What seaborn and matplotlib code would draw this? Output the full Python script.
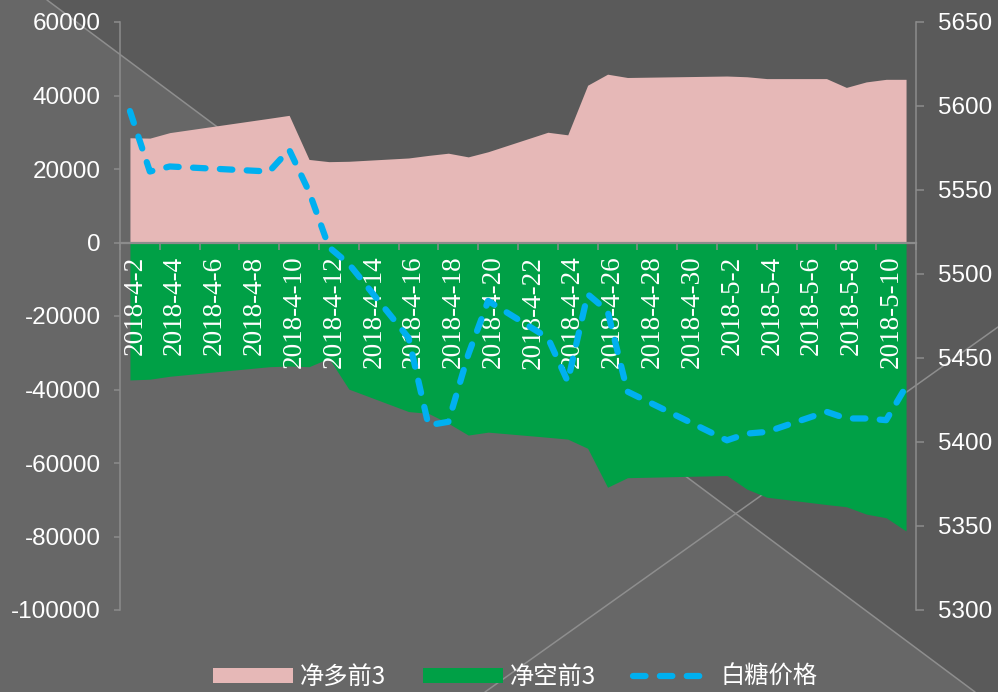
import numpy as np
import pandas as pd
import seaborn as sns
import matplotlib.pyplot as plt
import matplotlib.transforms as mtransforms
from matplotlib.patches import Polygon, Patch
from matplotlib.lines import Line2D

# trading days shown on the chart
dates = ['2018-04-02', '2018-04-03', '2018-04-04', '2018-04-09', '2018-04-10',
         '2018-04-11', '2018-04-12', '2018-04-13', '2018-04-16', '2018-04-17',
         '2018-04-18', '2018-04-19', '2018-04-20', '2018-04-23', '2018-04-24',
         '2018-04-25', '2018-04-26', '2018-04-27', '2018-05-02', '2018-05-03',
         '2018-05-04', '2018-05-07', '2018-05-08', '2018-05-09', '2018-05-10',
         '2018-05-11']

net_long_top3 = [28500, 28400, 29900, 33800, 34600, 22600, 22000, 22100, 23000, 23700,
                 24300, 23300, 24700, 30000, 29300, 42800, 45800, 44900, 45300, 45100,
                 44600, 44600, 42200, 43700, 44400, 44400]

net_short_top3 = [-37400, -37200, -36400, -33800, -33600, -33800, -31500, -39900, -46000, -46500,
                  -49200, -52400, -51600, -53000, -53500, -56000, -66600, -64000, -63400, -67100,
                  -69300, -71300, -71900, -73900, -74900, -78500]

sugar_price = [5597, 5561, 5564, 5561, 5574, 5549, 5516, 5506, 5462, 5410,
               5412, 5452, 5484, 5462, 5436, 5488, 5478, 5430, 5401, 5405,
               5406, 5418, 5414, 5414, 5413, 5433]

tick_labels = ['2018-4-2', '2018-4-4', '2018-4-6', '2018-4-8', '2018-4-10',
               '2018-4-12', '2018-4-14', '2018-4-16', '2018-4-18', '2018-4-20',
               '2018-4-22', '2018-4-24', '2018-4-26', '2018-4-28', '2018-4-30',
               '2018-5-2', '2018-5-4', '2018-5-6', '2018-5-8', '2018-5-10']

start = pd.Timestamp('2018-04-02')
df = pd.DataFrame({
    'date': pd.to_datetime(dates),
    '净多前3': net_long_top3,
    '净空前3': net_short_top3,
    '白糖价格': sugar_price,
})
df['day'] = (df['date'] - start).dt.days
tick_pos = (pd.to_datetime(tick_labels, format='%Y-%m-%d') - start).days

sns.set_theme(style='white')
plt.rcParams['font.family'] = ['Liberation Sans', 'DejaVu Sans']
plt.rcParams['font.serif'] = ['Liberation Serif', 'DejaVu Serif']
plt.rcParams['axes.unicode_minus'] = False

W, H = 998, 692
fig = plt.figure(figsize=(W / 100, H / 100), dpi=100)
fig.patch.set_facecolor('#5a5a5a')

# decorative background: lighter region left of the long diagonal, two thin lines
def px(x, y):
    return (x / W, 1 - y / H)

light = Polygon([px(0, 0), px(47, 0), px(975, 692), px(0, 692)], closed=True,
                transform=fig.transFigure, facecolor='#676767', edgecolor='none', zorder=-3)
fig.add_artist(light)
for (x0, y0), (x1, y1) in [((47, 0), (975, 692)), ((485, 692), (998, 327))]:
    fig.add_artist(Line2D([x0 / W, x1 / W], [1 - y0 / H, 1 - y1 / H], transform=fig.transFigure,
                          color='#8e8e8e', lw=1.1, zorder=-2))

ax = fig.add_axes([120 / W, 1 - 610 / H, 796 / W, 588 / H])
ax.set_facecolor('none')
ax.set_axisbelow(False)
ax.fill_between(df['day'], 0, df['净多前3'], color='#E6B8B7', lw=0, label='净多前3')
ax.fill_between(df['day'], 0, df['净空前3'], color='#00A046', lw=0, label='净空前3')

ax2 = ax.twinx()
ax2.set_facecolor('none')
sns.lineplot(data=df, x='day', y='白糖价格', ax=ax2, color='#00B0F0', lw=4.5,
             linestyle=(0, (2.0, 2.3)), dash_capstyle='round', dash_joinstyle='round',
             label='白糖价格', legend=False)

grey = '#8c8c8c'
ax.set_xlim(-0.5, 39.5)
ax.set_ylim(-100000, 60000)
ax2.set_ylim(5300, 5650)
ax.set_yticks(np.arange(-100000, 60001, 20000))
ax2.set_yticks(np.arange(5300, 5651, 50))
ax.set_xlabel('')
ax.set_ylabel('')
ax2.set_xlabel('')
ax2.set_ylabel('')

for s in ['top', 'right']:
    ax.spines[s].set_visible(False)
for s in ['top', 'left', 'bottom']:
    ax2.spines[s].set_visible(False)
ax.spines['left'].set_color(grey)
ax.spines['left'].set_linewidth(1.1)
ax.spines['bottom'].set_position(('data', 0))
ax.spines['bottom'].set_color(grey)
ax.spines['bottom'].set_linewidth(1.6)
ax2.spines['right'].set_color(grey)
ax2.spines['right'].set_linewidth(1.1)

ax.tick_params(axis='y', which='major', direction='out', length=4, width=1.1, color=grey,
               labelcolor='white', labelsize=17.5, pad=10, left=True)
ax2.tick_params(axis='y', which='major', direction='out', length=5.5, width=1.1, color=grey,
                labelcolor='white', labelsize=17.5, pad=10, right=True)

# date labels sit under the zero line, tick marks between them
ax.set_xticks(tick_pos)
ax.set_xticks(np.arange(-0.5, 40, 2), minor=True)
ax.tick_params(axis='x', which='major', length=0, pad=9.5, bottom=True)
ax.tick_params(axis='x', which='minor', direction='out', length=5, width=1.1, color=grey, bottom=True)
ax.set_xticklabels(tick_labels, rotation=90, fontsize=19.5, color='white', fontfamily='serif')
shift = mtransforms.ScaledTranslation(5 / 100, 0, fig.dpi_scale_trans)
for lab in ax.get_xticklabels():
    lab.set_transform(lab.get_transform() + shift)

handles = [Patch(facecolor='#E6B8B7', edgecolor='none'),
           Patch(facecolor='#00A046', edgecolor='none'),
           Line2D([], [], color='#00B0F0', lw=4.5, linestyle=(0, (2.0, 2.3)),
                  dash_capstyle='round')]
leg = fig.legend(handles, ['净多前3', '净空前3', '白糖价格'], loc='center',
                 bbox_to_anchor=(515 / W, 1 - 677 / H), ncol=3, frameon=False,
                 handlelength=3.3, handleheight=0.6, handletextpad=0.3, columnspacing=1.5,
                 prop={'family': ['Noto Sans CJK SC', 'DejaVu Sans'], 'size': 17.5})
for t in leg.get_texts():
    t.set_color('white')

fig.savefig('out.png', dpi=100, facecolor=fig.get_facecolor())
